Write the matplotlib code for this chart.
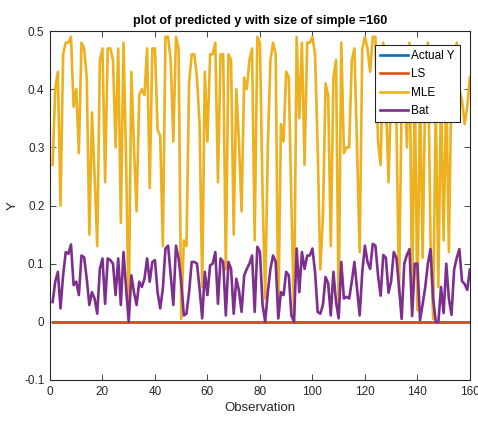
import numpy as np
import matplotlib
matplotlib.use("Agg")
import matplotlib.pyplot as plt

plt.rcParams['font.family'] = ['Liberation Sans', 'DejaVu Sans']

# valores (observaciones 1..160)
obs = np.arange(1, 161)

mle = [0.27, 0.40, 0.43, 0.20, 0.46, 0.48, 0.48, 0.49, 0.37, 0.40,
       0.29, 0.48, 0.47, 0.42, 0.15, 0.36, 0.25, 0.13, 0.45, 0.47,
       0.24, 0.47, 0.47, 0.45, 0.30, 0.47, 0.17, 0.48, 0.28, 0.005,
       0.43, 0.30, 0.19, 0.39, 0.40, 0.39, 0.47, 0.23, 0.47, 0.47,
       0.33, 0.32, 0.13, 0.49, 0.49, 0.45, 0.31, 0.49, 0.47, 0.005,
       0.14, 0.13, 0.41, 0.46, 0.46, 0.42, 0.34, 0.06, 0.43, 0.31,
       0.46, 0.46, 0.48, 0.24, 0.46, 0.46, 0.09, 0.46, 0.45, 0.15,
       0.40, 0.31, 0.19, 0.42, 0.40, 0.45, 0.47, 0.14, 0.49, 0.48,
       0.22, 0.04, 0.30, 0.45, 0.48, 0.46, 0.006, 0.34, 0.31, 0.43,
       0.42, 0.20, 0.01, 0.49, 0.35, 0.48, 0.27, 0.48, 0.48, 0.49,
       0.46, 0.30, 0.09, 0.18, 0.41, 0.39, 0.13, 0.42, 0.45, 0.017,
       0.48, 0.29, 0.30, 0.30, 0.45, 0.47, 0.30, 0.12, 0.47, 0.49,
       0.47, 0.43, 0.49, 0.49, 0.31, 0.27, 0.48, 0.38, 0.24, 0.40,
       0.47, 0.35, 0.05, 0.38, 0.44, 0.30, 0.48, 0.03, 0.42, 0.02,
       0.40, 0.11, 0.40, 0.48, 0.14, 0.005, 0.38, 0.06, 0.40, 0.14,
       0.40, 0.12, 0.42, 0.44, 0.48, 0.40, 0.38, 0.34, 0.37, 0.42]

bat = [0.034, 0.069, 0.086, 0.023, 0.080, 0.120, 0.117, 0.133, 0.063, 0.069,
       0.046, 0.114, 0.111, 0.074, 0.029, 0.051, 0.040, 0.014, 0.091, 0.109,
       0.031, 0.109, 0.106, 0.100, 0.046, 0.109, 0.029, 0.120, 0.057, 0.000,
       0.080, 0.051, 0.029, 0.069, 0.060, 0.074, 0.109, 0.069, 0.103, 0.106,
       0.051, 0.023, 0.057, 0.126, 0.131, 0.080, 0.029, 0.131, 0.109, 0.069,
       0.011, 0.014, 0.051, 0.103, 0.103, 0.100, 0.057, 0.006, 0.086, 0.046,
       0.097, 0.100, 0.120, 0.031, 0.109, 0.103, 0.011, 0.103, 0.091, 0.014,
       0.074, 0.054, 0.017, 0.080, 0.091, 0.100, 0.114, 0.017, 0.129, 0.120,
       0.029, 0.000, 0.051, 0.091, 0.114, 0.103, 0.006, 0.051, 0.046, 0.086,
       0.080, 0.011, 0.000, 0.126, 0.051, 0.120, 0.091, 0.114, 0.114, 0.126,
       0.086, 0.017, 0.014, 0.029, 0.077, 0.066, 0.011, 0.086, 0.034, 0.006,
       0.103, 0.040, 0.043, 0.040, 0.069, 0.103, 0.057, 0.011, 0.086, 0.131,
       0.103, 0.091, 0.134, 0.131, 0.080, 0.045, 0.115, 0.110, 0.050, 0.070,
       0.120, 0.110, 0.060, 0.005, 0.100, 0.115, 0.125, 0.010, 0.100, 0.100,
       0.003, 0.030, 0.060, 0.100, 0.125, 0.040, 0.000, 0.000, 0.060, 0.015,
       0.100, 0.040, 0.012, 0.090, 0.110, 0.125, 0.070, 0.065, 0.055, 0.090]

actual_y = np.zeros(160)
ls = np.zeros(160)

fig = plt.figure(figsize=(4.78, 4.25), dpi=100)
ax = fig.add_axes([0.1046, 0.1059, 0.8784, 0.8211])

ax.plot(obs, actual_y, color=(0, 0.447, 0.741), lw=1.9, label='Actual Y')
ax.plot(obs, ls, color=(0.85, 0.325, 0.098), lw=1.9, label='LS')
ax.plot(obs, mle, color=(0.929, 0.694, 0.125), lw=1.9, label='MLE')
ax.plot(obs, bat, color=(0.494, 0.184, 0.556), lw=1.9, label='Bat')

ax.set_xlim(0, 160)
ax.set_ylim(-0.1, 0.5)
ax.set_xticks(np.arange(0, 161, 20))
yt = [-0.1, 0, 0.1, 0.2, 0.3, 0.4, 0.5]
ax.set_yticks(yt)
ax.set_yticklabels(['%g' % v for v in yt])
ax.tick_params(direction='in', top=True, right=True, length=4, width=0.6,
               labelsize=8.5, colors='#262626', pad=4)
for s in ax.spines.values():
    s.set_linewidth(0.8)
    s.set_color('#262626')

ax.set_title('plot of predicted y with size of simple =160', fontsize=9,
             fontweight='bold', pad=5)
ax.set_xlabel('Observation', fontsize=9.5, color='#262626', labelpad=3)
ax.set_ylabel('Y', fontsize=9.5, color='#262626', labelpad=4)

leg = ax.legend(loc='upper right', bbox_to_anchor=(0.976, 0.96), fontsize=8.5,
                handlelength=2.4, handletextpad=0.3, borderpad=0.4,
                labelspacing=0.55, fancybox=False, framealpha=1, borderaxespad=0)
leg.get_frame().set_edgecolor('#262626')
leg.get_frame().set_linewidth(0.8)

plt.savefig("out.png", dpi=100)
plt.close()
